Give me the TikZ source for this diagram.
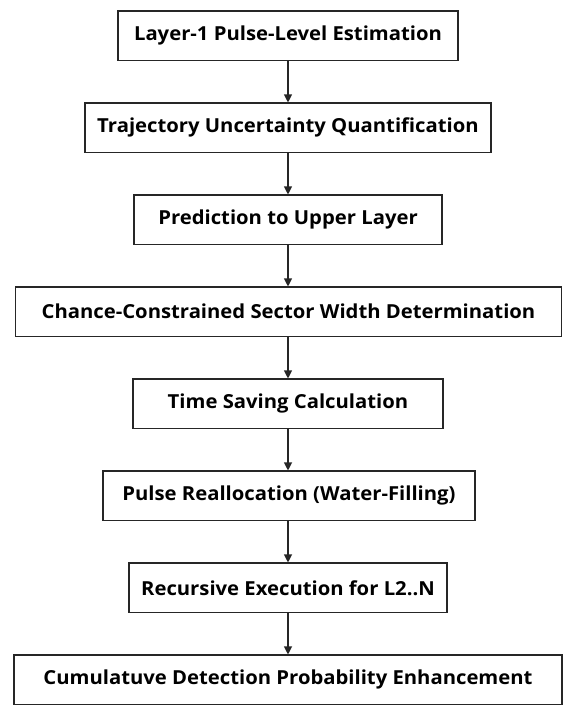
\documentclass[tikz,border=0pt]{standalone}
\usepackage{fontspec}
\setmainfont{Open Sans}[FakeStretch=1.05]
\usetikzlibrary{arrows.meta}
\begin{document}
\begin{tikzpicture}[x=1pt,y=-1pt,
  stepbox/.style={draw=black!85,line width=1.1pt,minimum height=49.5pt,inner sep=0pt,font=\fontsize{19.3}{22}\selectfont\bfseries},
  conn/.style={draw=black!85,line width=1.1pt,-{Triangle[length=8pt,width=8pt]}}]
\useasboundingbox (0,0) rectangle (566,712);
\node[stepbox,minimum width=340pt] (n1) at (288,35.75) {Layer-1 Pulse-Level Estimation};
\node[stepbox,minimum width=406pt] (n2) at (288,127.75) {Trajectory Uncertainty Quantification};
\node[stepbox,minimum width=308pt] (n3) at (288,219.75) {Prediction to Upper Layer};
\node[stepbox,minimum width=546pt] (n4) at (288.5,311.75) {Chance-Constrained Sector Width Determination};
\node[stepbox,minimum width=310pt] (n5) at (288,403.75) {Time Saving Calculation};
\node[stepbox,minimum width=372pt] (n6) at (289,495.75) {Pulse Reallocation (Water-Filling)};
\node[stepbox,minimum width=318pt] (n7) at (288,587.75) {Recursive Execution for L2..N};
\node[stepbox,minimum width=548pt] (n8) at (288,679.75) {Cumulatuve Detection Probability Enhancement};
\foreach \a/\b in {n1/n2,n2/n3,n3/n4,n4/n5,n5/n6,n6/n7,n7/n8}
  \draw[conn] (\a.south -| 288,0) -- (\b.north -| 288,0);
\end{tikzpicture}
\end{document}
